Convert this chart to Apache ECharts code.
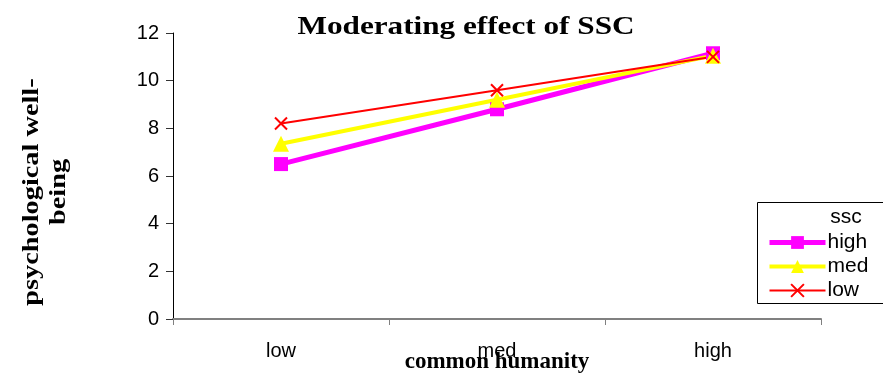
<!DOCTYPE html>
<html><head><meta charset="utf-8">
<script src="https://cdn.jsdelivr.net/npm/echarts@6/dist/echarts.min.js"></script>
<style>html,body{margin:0;padding:0;background:#fff}#c{width:883px;height:375px}</style>
</head><body><div id="c"></div>
<script>
const categories = ['low', 'med', 'high'];
const sscHigh = [6.5, 8.8, 11.15];
const sscMed = [7.35, 9.2, 11.05];
const sscLow = [8.2, 9.6, 11.0];
const yTicks = [0, 2, 4, 6, 8, 10, 12];

const chart = echarts.init(document.getElementById('c'));
chart.setOption({
  animation: false,
  backgroundColor: '#fff',
  grid: {left: 173, right: 62, top: 33, bottom: 56, outerBoundsMode: 'none', containLabel: false},
  xAxis: {
    type: 'category', data: categories, boundaryGap: true,
    axisLine: {lineStyle: {color: '#808080', width: 2}},
    axisTick: {show: true, length: 6, lineStyle: {color: '#808080', width: 1}},
    axisLabel: {fontFamily: 'Liberation Sans', fontSize: 20, color: '#000', margin: 22},
    name: 'common humanity', nameLocation: 'middle', nameGap: 43, nameMoveOverlap: false,
    nameTextStyle: {fontFamily: 'Liberation Serif', fontWeight: 'bold', fontSize: 23, color: '#000', verticalAlign: 'middle'}
  },
  yAxis: {
    type: 'value', min: yTicks[0], max: yTicks[yTicks.length - 1], interval: 2,
    axisLine: {show: true, lineStyle: {color: '#000', width: 1}},
    axisTick: {show: true, length: 7, lineStyle: {color: '#333'}},
    splitLine: {show: false},
    axisLabel: {fontFamily: 'Liberation Sans', fontSize: 20, color: '#000', margin: 14}
  },
  legend: {
    orient: 'vertical', left: 767, top: 232, itemGap: 3, padding: 0,
    itemWidth: 56, itemHeight: 16,
    textStyle: {fontFamily: 'Liberation Sans', fontSize: 21, color: '#000', padding: [0,0,0,-3]},
    data: [
      {name: 'high', lineStyle: {width: 5}},
      {name: 'med', lineStyle: {width: 4}},
      {name: 'low', lineStyle: {width: 2}}
    ]
  },
  graphic: [
    {type: 'rect', shape: {x: 757.5, y: 202.5, width: 140, height: 101}, style: {fill: '#fff', stroke: '#000', lineWidth: 1}, z: -1},
    {type: 'text', x: 846, y: 217, style: {text: 'ssc', font: '21px "Liberation Sans"', fill: '#000', align: 'center', verticalAlign: 'middle'}},
    {type: 'text', x: 466, y: 27, scaleX: 1.2,
     style: {text: 'Moderating effect of SSC', font: 'bold 26px "Liberation Serif"', fill: '#000', align: 'center', verticalAlign: 'middle'}},
    {type: 'text', x: 45, y: 192, rotation: Math.PI / 2, scaleX: 1.18,
     style: {text: 'psychological well-\nbeing', font: 'bold 24px "Liberation Serif"', fill: '#000', align: 'center', verticalAlign: 'middle', lineHeight: 27}}
  ],
  series: [
    {name: 'high', type: 'line', data: sscHigh, symbol: 'rect', symbolSize: 14,
     lineStyle: {color: '#ff00ff', width: 5}, itemStyle: {color: '#ff00ff'}},
    {name: 'med', type: 'line', data: sscMed, symbol: 'triangle', symbolSize: 16,
     lineStyle: {color: '#ffff00', width: 4}, itemStyle: {color: '#ffff00'}},
    {name: 'low', type: 'line', data: sscLow, symbol: 'path://M0,0L10,10M10,0L0,10', symbolSize: 12,
     lineStyle: {color: '#ff0000', width: 2}, itemStyle: {color: 'rgba(0,0,0,0)', borderColor: '#ff0000', borderWidth: 2}}
  ]
});
</script></body></html>
